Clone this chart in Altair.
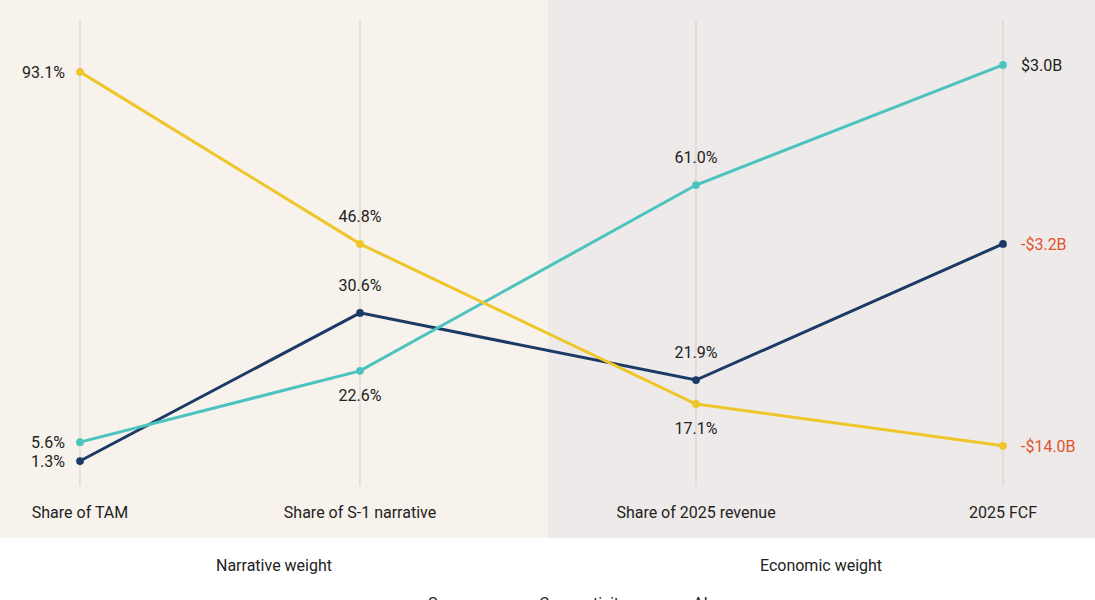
import altair as alt
import pandas as pd

# ---- data ----
dims = ["Share of TAM", "Share of S-1 narrative", "Share of 2025 revenue", "2025 FCF"]
groups = ["Narrative weight", "Economic weight"]
series = ["Space", "Connectivity", "AI"]
colors = ["#1B3B66", "#4CC3BF", "#EEC62A"]

# displayed value labels
space_labels = ["1.3%", "30.6%", "21.9%", "-$3.2B"]
conn_labels = ["5.6%", "22.6%", "61.0%", "$3.0B"]
ai_labels = ["93.1%", "46.8%", "17.1%", "-$14.0B"]

# plotted height on each axis (0-100 relative scale)
space_level = [6.3, 38.5, 23.9, 53.5]
conn_level = [10.4, 25.9, 66.3, 92.4]
ai_level = [90.9, 53.5, 18.7, 9.6]

rows = []
for s, labs, lev in [("Space", space_labels, space_level),
                     ("Connectivity", conn_labels, conn_level),
                     ("AI", ai_labels, ai_level)]:
    for i, d in enumerate(dims):
        rows.append({"series": s, "dim": d, "idx": i, "label": labs[i], "level": lev[i]})
df = pd.DataFrame(rows)

# label placement: first axis left, last axis right, middle axes above (lowest below)
def place(r):
    if r["idx"] == 0:
        return "left"
    if r["idx"] == len(dims) - 1:
        return "right"
    lowest = df[df["idx"] == r["idx"]]["level"].min()
    return "below" if r["level"] == lowest else "above"

df["pos"] = df.apply(place, axis=1)
df["neg"] = df["label"].str.startswith("-")

dims_df = pd.DataFrame({"dim": dims, "idx": list(range(len(dims)))})

FONT = "Roboto"
FS = 16
W, H = 1095, 600
# piecewise x scale: axis columns are not evenly spaced in the reference layout
xenc = alt.X("idx:Q", scale=alt.Scale(domain=[0, 1, 2, 3], range=[80, 360, 696, 1003]), axis=None)
yscale = alt.Scale(domain=[0, 100], range=[490, 30])
yenc = alt.Y("level:Q", scale=yscale, axis=None)

bg_left = alt.Chart(dims_df).mark_rect(color="#F7F2EC").encode(
    x=alt.value(0), x2=alt.value(548), y=alt.value(0), y2=alt.value(538))
bg_right = alt.Chart(dims_df).mark_rect(color="#EEEAE9").encode(
    x=alt.value(548), x2=alt.value(W), y=alt.value(0), y2=alt.value(538))

grid = alt.Chart(dims_df).mark_rule(color="#D3CFCB", strokeWidth=1).encode(
    x=xenc, y=alt.value(20), y2=alt.value(486))

dim_labels = alt.Chart(dims_df).mark_text(font=FONT, fontSize=FS, color="#222222").encode(
    x=xenc, y=alt.value(513), text="dim:N")

grp_labels = [
    alt.Chart(dims_df.head(1)).mark_text(font=FONT, fontSize=FS, fontWeight="normal", color="#222222").encode(
        x=alt.value(gx), y=alt.value(566), text=alt.value(g))
    for g, gx in zip(groups, [274, 821])
]

color = alt.Color("series:N", scale=alt.Scale(domain=series, range=colors),
                  legend=alt.Legend(title=None, orient="none", direction="horizontal",
                                    legendX=395, legendY=590, labelFont=FONT, labelFontSize=FS,
                                    labelColor="#222222", symbolType="stroke", symbolSize=576,
                                    symbolStrokeWidth=3, labelOffset=6, columnPadding=28))

lines = alt.Chart(df).mark_line(strokeWidth=3).encode(
    x=xenc, y=yenc, color=color, detail="series:N", order="idx:Q")
pts = alt.Chart(df).mark_circle(size=60, opacity=1).encode(
    x=xenc, y=yenc, color=alt.Color("series:N", scale=alt.Scale(domain=series, range=colors), legend=None))

txt_color = alt.condition("datum.neg", alt.value("#E0532E"), alt.value("#222222"))

def lab(pos, **kw):
    return alt.Chart(df).transform_filter(f"datum.pos == '{pos}'").mark_text(
        font=FONT, fontSize=FS, **kw).encode(x=xenc, y=yenc, text="label:N", color=txt_color)

labels = [
    lab("left", align="right", dx=-15, dy=1),
    lab("right", align="left", dx=18, dy=1),
    lab("above", align="center", dy=-27),
    lab("below", align="center", dy=25),
]

chart = alt.layer(bg_left, bg_right, grid, dim_labels, *grp_labels, lines, pts, *labels).properties(
    width=W, height=H, padding=0, autosize=alt.AutoSizeParams(type="none"),
    background="white").configure_view(stroke=None)

chart.save("out.html", embed_options={"renderer": "svg", "actions": False})
